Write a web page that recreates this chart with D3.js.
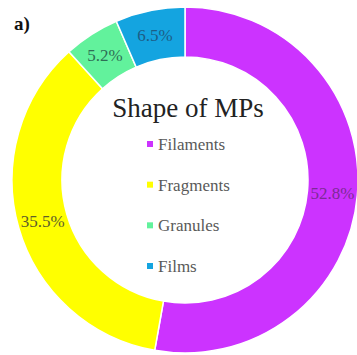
<!DOCTYPE html>
<html><head><meta charset="utf-8">
<script src="https://cdn.jsdelivr.net/npm/d3@7"></script>
<style>body{margin:0;background:#fff}svg{display:block}
text{font-family:"Liberation Serif","Times New Roman",Times,serif}</style>
</head><body>
<svg id="c" width="357" height="355"></svg>
<script>
const categories = ["Filaments", "Fragments", "Granules", "Films"];
const values = [52.8, 35.5, 5.2, 6.5];
const labels = ["52.8%", "35.5%", "5.2%", "6.5%"];
const colors = ["#cc33ff", "#ffff00", "#62f29c", "#14a4e0"];
const labelColors = ["#7d2a96", "#5e5e2a", "#2f6e55", "#1d5d86"];

const svg = d3.select("#c");
const cx = 185, cy = 180, rOuter = 173, rInner = 123;
const g = svg.append("g").attr("transform", `translate(${cx},${cy})`);
const pie = d3.pie().sort(null).value(d => d)(values);
const arc = d3.arc().innerRadius(rInner).outerRadius(rOuter);
const labelArc = d3.arc().innerRadius((rInner + rOuter) / 2).outerRadius((rInner + rOuter) / 2);

g.selectAll("path").data(pie).join("path")
  .attr("d", arc).attr("fill", (d, i) => colors[i])
  .attr("stroke", "#fff").attr("stroke-width", 1.5);

g.selectAll("text.lbl").data(pie).join("text").attr("class", "lbl")
  .attr("transform", d => `translate(${labelArc.centroid(d)})`)
  .attr("text-anchor", "middle").attr("dy", "0.35em")
  .attr("font-size", 17)
  .attr("fill", (d, i) => labelColors[i])
  .text((d, i) => labels[i]);

svg.append("text").attr("x", 14).attr("y", 30)
  .attr("font-weight", "bold")
  .attr("font-size", 19).attr("fill", "#111").text("a)");

svg.append("text").attr("x", 188).attr("y", 117).attr("text-anchor", "middle")
  .attr("font-size", 27)
  .attr("fill", "#222").text("Shape of MPs");

const ly = d3.scalePoint().domain(categories).range([144, 266]);
const leg = svg.append("g").selectAll("g").data(categories).join("g")
  .attr("transform", d => `translate(150,${ly(d)})`);
leg.append("rect").attr("x", -3).attr("y", -3).attr("width", 6).attr("height", 6)
  .attr("fill", (d, i) => colors[i]);
leg.append("text").attr("x", 8).attr("dy", "0.35em")
  .attr("font-size", 17)
  .attr("fill", "#595959").text(d => d);
</script>
</body></html>
